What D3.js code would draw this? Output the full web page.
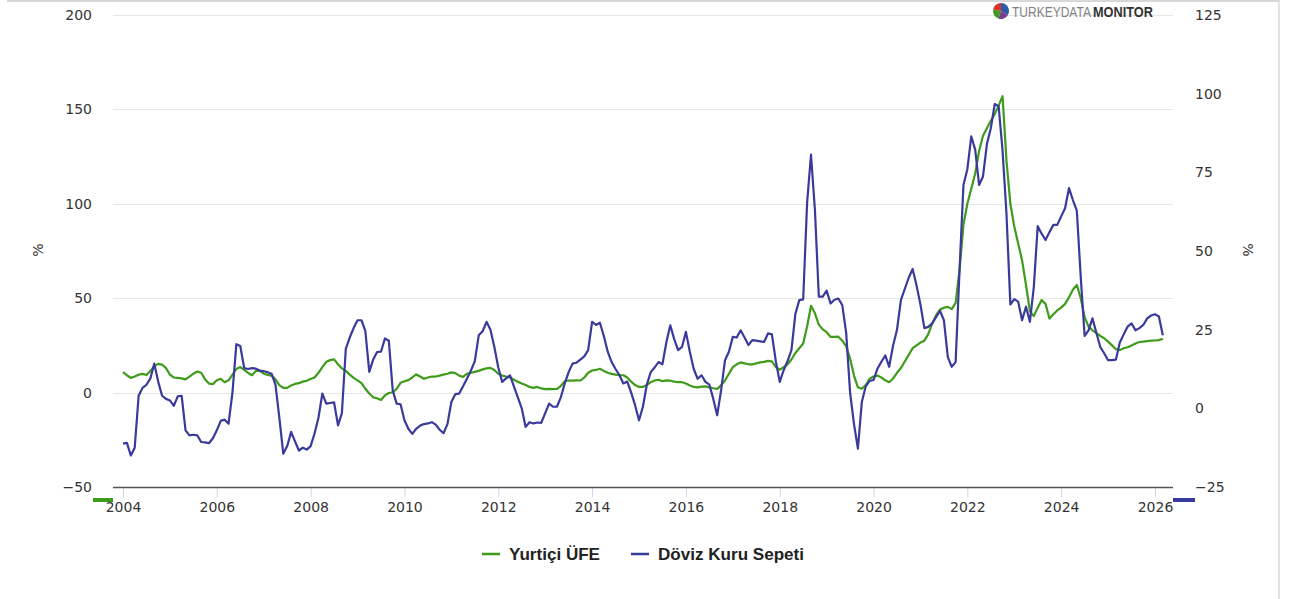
<!DOCTYPE html>
<html><head><meta charset="utf-8">
<script src="https://cdn.jsdelivr.net/npm/d3@7/dist/d3.min.js"></script>
<style>html,body{margin:0;padding:0;background:#fff;}svg{display:block;}</style>
</head><body>
<svg id="chart" width="1293" height="599"></svg>
<script>
// ---- DATA ----
const startYear = 2004; // first monthly observation: January 2004
const seriesNames = ["Yurtiçi ÜFE", "Döviz Kuru Sepeti"];
const ufe = [10.8,9.2,7.8,8.5,9.5,9.9,9.3,11.5,14.0,15.2,14.8,13.0,9.5,8.0,7.8,7.5,7.0,8.5,10.0,11.2,10.5,7.0,4.8,4.5,6.5,7.3,5.5,6.5,9.5,12.5,13.5,12.0,10.5,9.2,11.5,11.5,10.0,9.4,9.0,7.0,4.0,2.5,2.5,3.8,4.6,5.0,5.8,6.3,7.2,8.0,10.5,13.5,16.3,17.2,17.6,15.0,12.8,11.5,9.5,7.8,6.5,5.0,2.0,-0.5,-2.5,-3.0,-3.9,-1.5,-0.2,0.2,2.0,5.2,6.0,6.6,8.0,9.6,8.5,7.3,8.0,8.5,8.5,9.0,9.5,10.0,10.7,10.3,9.0,8.3,10.0,10.5,11.0,11.5,12.3,12.8,13.1,12.0,10.0,9.0,8.5,8.1,6.8,5.8,4.8,4.0,3.0,2.5,3.0,2.2,1.8,2.0,1.8,1.9,3.5,6.0,6.4,6.3,6.5,6.4,8.0,10.5,11.7,12.0,12.6,11.5,10.5,9.9,9.5,9.3,9.2,8.0,5.8,4.0,3.0,3.0,4.0,5.5,6.4,6.8,6.0,6.5,6.3,5.8,5.5,5.5,4.8,3.8,3.0,2.8,3.2,3.3,2.8,2.3,2.0,3.8,6.4,10.0,13.5,15.0,16.0,15.5,15.0,14.9,15.5,16.0,16.3,16.8,16.5,13.5,12.1,13.5,15.0,17.5,21.0,23.5,26.0,35.0,46.0,42.0,36.0,33.5,32.0,29.5,29.5,29.6,27.5,24.5,18.0,9.0,2.8,2.0,4.0,7.3,8.5,9.0,8.0,6.5,5.5,7.5,10.5,13.0,16.5,20.0,23.5,25.0,26.5,27.5,31.0,36.5,41.0,44.0,45.0,45.4,44.2,47.5,65.0,89.0,100.0,108.0,116.0,128.0,136.0,140.0,144.0,147.5,152.0,157.0,123.0,100.0,88.0,79.0,70.0,57.0,43.0,40.5,45.0,49.0,47.0,39.2,41.5,43.5,45.0,47.0,50.5,54.5,57.0,50.0,40.0,35.0,33.0,31.5,30.0,28.8,27.0,25.0,23.0,22.5,23.5,24.0,25.0,26.0,26.8,27.0,27.3,27.5,27.6,27.8,28.5];
const doviz = [-11.2,-11.0,-15.0,-12.5,4.0,6.5,7.5,9.5,14.2,8.5,4.0,3.0,2.5,0.8,3.8,4.0,-7.0,-8.6,-8.4,-8.6,-10.7,-10.8,-11.1,-9.5,-7.0,-4.0,-3.6,-4.9,5.0,20.4,19.8,12.8,12.5,12.8,12.6,12.0,11.8,11.5,11.0,7.5,-3.0,-14.4,-12.0,-7.5,-10.5,-13.4,-12.5,-13.1,-12.0,-8.0,-3.0,4.7,1.5,1.7,1.9,-5.4,-1.5,19.0,22.5,25.5,28.0,28.0,24.5,11.6,15.5,17.9,18.0,22.2,21.5,5.7,1.5,1.3,-3.8,-6.5,-8.1,-6.5,-5.5,-5.0,-4.8,-4.4,-5.2,-6.8,-7.9,-5.0,2.0,4.5,4.7,7.0,9.5,12.0,15.0,23.2,24.5,27.5,25.0,19.5,13.0,8.4,9.5,10.5,7.0,3.5,0.0,-5.9,-4.4,-4.8,-4.5,-4.6,-1.5,1.5,0.5,0.5,3.5,7.9,11.5,14.2,14.5,15.5,16.5,18.5,27.5,26.5,27.2,23.0,18.0,14.7,12.5,10.5,7.9,8.5,5.0,1.0,-3.8,0.5,7.5,11.5,13.0,14.7,14.0,21.0,26.4,22.0,18.5,19.5,24.3,18.0,12.5,9.4,10.5,8.4,7.5,3.0,-2.2,5.7,15.3,18.0,22.7,22.5,24.8,22.5,20.1,21.7,21.5,21.3,21.1,23.8,23.5,15.0,8.4,12.1,15.0,18.5,30.0,34.4,34.6,65.2,80.6,63.1,35.5,35.5,37.4,33.3,34.5,34.9,32.8,24.0,5.0,-5.0,-12.8,2.0,7.0,8.7,9.0,12.6,14.8,16.8,13.2,20.0,25.0,34.4,38.0,41.5,44.3,39.0,33.0,25.5,25.9,27.0,29.0,31.0,28.0,16.3,13.2,14.7,43.9,71.0,76.0,86.4,82.2,71.0,73.7,84.0,89.0,96.7,96.0,82.0,62.0,33.0,34.7,33.9,28.0,32.3,27.5,38.6,57.9,55.5,53.5,56.0,58.3,58.3,61.0,63.6,70.0,66.2,62.8,41.8,23.0,24.8,28.6,24.0,19.5,17.5,15.3,15.3,15.5,20.9,23.5,26.0,27.0,24.8,25.5,26.5,28.6,29.5,29.9,29.2,23.2];
const xTickLabels = ["2004","2006","2008","2010","2012","2014","2016","2018","2020","2022","2024","2026"];
const leftTicks = [-50, 0, 50, 100, 150, 200];
const rightTicks = [-25, 0, 25, 50, 75, 100, 125];
const colors = ["#3f9b1a", "#3a3a9c"];

// ---- CHART ----
const svg = d3.select("#chart");
const plot = {left: 113, right: 1173, top: 15, bottom: 487};

// chart container border
svg.append("line").attr("x1", 7).attr("x2", 1279).attr("y1", 1).attr("y2", 1)
  .attr("stroke", "#d8d8d8").attr("stroke-width", 2);
svg.append("line").attr("x1", 1279).attr("x2", 1279).attr("y1", 0).attr("y2", 599)
  .attr("stroke", "#d8d8d8").attr("stroke-width", 1.5);

const x = d3.scaleLinear().domain([2004, 2026]).range([123, 1155]);
const yL = d3.scaleLinear().domain([-50, 200]).range([plot.bottom, plot.top]);
const yR = d3.scaleLinear().domain([-25, 125]).range([plot.bottom, plot.top]);

const tickFont = "'DejaVu Sans', Verdana, sans-serif";

// gridlines
svg.append("g").selectAll("line").data(leftTicks.filter(d => d !== -50)).join("line")
  .attr("x1", plot.left).attr("x2", plot.right)
  .attr("y1", d => Math.round(yL(d)) + 0.5).attr("y2", d => Math.round(yL(d)) + 0.5)
  .attr("stroke", "#e6e6e6").attr("stroke-width", 1);

// left axis
const gL = svg.append("g").attr("transform", `translate(${plot.left},0)`)
  .call(d3.axisLeft(yL).tickValues(leftTicks).tickSize(0).tickPadding(21).tickFormat(d => d < 0 ? "\u2212" + Math.abs(d) : d));
gL.select(".domain").remove();
gL.selectAll("text").attr("font-family", tickFont).attr("font-size", 14).attr("fill", "#333");

// right axis
const gR = svg.append("g").attr("transform", `translate(${plot.right},0)`)
  .call(d3.axisRight(yR).tickValues(rightTicks).tickSize(0).tickPadding(22).tickFormat(d => d < 0 ? "\u2212" + Math.abs(d) : d));
gR.select(".domain").remove();
gR.selectAll("text").attr("font-family", tickFont).attr("font-size", 14).attr("fill", "#333");

// axis titles
svg.append("text").attr("transform", "translate(43,250) rotate(-90)").attr("text-anchor", "middle")
  .attr("font-family", tickFont).attr("font-size", 14).attr("fill", "#333").text("%");
svg.append("text").attr("transform", "translate(1243,250) rotate(90)").attr("text-anchor", "middle")
  .attr("font-family", tickFont).attr("font-size", 14).attr("fill", "#333").text("%");

// x axis
const xTickVals = xTickLabels.map(Number);
const gX = svg.append("g").attr("transform", `translate(0,${plot.bottom})`)
  .call(d3.axisBottom(x).tickValues(xTickVals).tickSize(10).tickPadding(5).tickFormat((d, i) => xTickLabels[i]));
gX.select(".domain").remove();
gX.selectAll(".tick line").attr("stroke", "#ccd6eb");
gX.selectAll("text").attr("font-family", tickFont).attr("font-size", 14).attr("fill", "#333");
svg.append("line").attr("x1", plot.left).attr("x2", plot.right)
  .attr("y1", plot.bottom + 0.5).attr("y2", plot.bottom + 0.5).attr("stroke", "#555").attr("stroke-width", 1.3);

// coloured axis markers
svg.append("rect").attr("x", 93).attr("y", 498).attr("width", 20).attr("height", 4).attr("fill", colors[0]);
svg.append("rect").attr("x", 1173).attr("y", 498).attr("width", 22).attr("height", 4).attr("fill", colors[1]);

// lines
const tOf = i => startYear + i / 12;
const lineL = d3.line().x((d, i) => x(tOf(i))).y(d => yL(d));
const lineR = d3.line().x((d, i) => x(tOf(i))).y(d => yR(d));
svg.append("path").datum(ufe).attr("d", lineL).attr("fill", "none")
  .attr("stroke", colors[0]).attr("stroke-width", 2.2).attr("stroke-linejoin", "round");
svg.append("path").datum(doviz).attr("d", lineR).attr("fill", "none")
  .attr("stroke", colors[1]).attr("stroke-width", 2.2).attr("stroke-linejoin", "round");

// legend
const legend = [{name: seriesNames[0], x: 482, w: 91, c: colors[0]}, {name: seriesNames[1], x: 631, w: 146, c: colors[1]}];
const lg = svg.append("g");
legend.forEach(l => {
  lg.append("line").attr("x1", l.x).attr("x2", l.x + 18).attr("y1", 554).attr("y2", 554)
    .attr("stroke", l.c).attr("stroke-width", 2.5);
  lg.append("text").attr("x", l.x + 27).attr("y", 560)
    .attr("font-family", "'Liberation Sans', Arial, sans-serif").attr("font-weight", "bold")
    .attr("font-size", 17).attr("fill", "#222")
    .attr("textLength", l.w).attr("lengthAdjust", "spacingAndGlyphs").text(l.name);
});

// logo
const logo = svg.append("g").attr("transform", "translate(1001,11)");
const pie = d3.pie().sort(null)([3, 2, 2, 2]);
const arc = d3.arc().innerRadius(0).outerRadius(8);
const logoCols = ["#2e5aa8", "#7a3d8f", "#3f9b1a", "#d9342b"];
logo.selectAll("path").data(pie).join("path").attr("d", arc).attr("fill", (d, i) => logoCols[i]);
const logoFont = "'Liberation Sans Narrow', 'Arial Narrow', sans-serif";
function fitText(txt, x0, target, weight, fill) {
  const g = svg.append("g");
  const t = g.append("text").attr("x", 0).attr("y", 0).attr("font-family", logoFont)
    .attr("font-size", 15).attr("font-weight", weight).attr("fill", fill).text(txt);
  const w = t.node().getComputedTextLength();
  g.attr("transform", `translate(${x0},17) scale(${target / w},1)`);
}
fitText("TURKEYDATA", 1012, 79, "normal", "#808080");
fitText("MONITOR", 1093, 60, "bold", "#333");
</script>
</body></html>
